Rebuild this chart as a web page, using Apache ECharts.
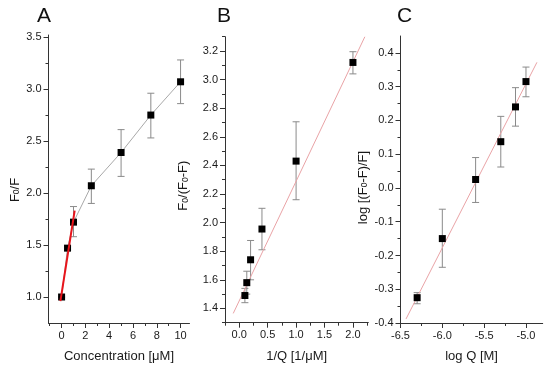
<!DOCTYPE html>
<html><head><meta charset="utf-8">
<script src="https://cdn.jsdelivr.net/npm/echarts@6/dist/echarts.min.js"></script>
<style>html,body{margin:0;padding:0;background:#fff}#c{width:550px;height:371px}</style>
</head><body><div id="c"></div>
<script>
// Panel A: Stern-Volmer
const aX  = [0, 0.5, 1, 2.5, 5, 7.5, 10];
const aY  = [1.00, 1.47, 1.72, 2.07, 2.39, 2.75, 3.07];
const aLo = [1.00, 1.45, 1.58, 1.90, 2.16, 2.53, 2.86];
const aHi = [1.00, 1.49, 1.87, 2.23, 2.61, 2.96, 3.28];
const aFitX = [-0.1, 1.1];
const aFitY = [0.96, 1.83];
// Panel B: modified Stern-Volmer
const bX  = [0.1, 0.1333, 0.2, 0.4, 1.0, 2.0];
const bY  = [1.49, 1.58, 1.74, 1.955, 2.43, 3.12];
const bLo = [1.44, 1.50, 1.60, 1.81, 2.16, 3.04];
const bHi = [1.54, 1.66, 1.875, 2.10, 2.705, 3.195];
const bFitX = [-0.105, 2.21];
const bFitY = [1.365, 3.30];
// Panel C: double log
const cX  = [-6.301, -6.0, -5.602, -5.301, -5.125, -5.0];
const cY  = [-0.325, -0.15, 0.025, 0.137, 0.24, 0.315];
const cLo = [-0.343, -0.235, -0.043, 0.062, 0.183, 0.27];
const cHi = [-0.31, -0.063, 0.09, 0.212, 0.297, 0.358];
const cFitX = [-6.434, -4.869];
const cFitY = [-0.388, 0.372];
// tick labels
const aXTicks = [0, 2, 4, 6, 8, 10];
const aXMinor = [-1, 1, 3, 5, 7, 9];
const aYTicks = [1.0, 1.5, 2.0, 2.5, 3.0, 3.5];
const aYMinor = [1.25, 1.75, 2.25, 2.75, 3.25];
const bXTicks = [0.0, 0.5, 1.0, 1.5, 2.0];
const bXMinor = [-0.25, 0.25, 0.75, 1.25, 1.75, 2.25];
const bYTicks = [1.4, 1.6, 1.8, 2.0, 2.2, 2.4, 2.6, 2.8, 3.0, 3.2];
const bYMinor = [1.3, 1.5, 1.7, 1.9, 2.1, 2.3, 2.5, 2.7, 2.9, 3.1, 3.3];
const cXTicks = [-6.5, -6.0, -5.5, -5.0];
const cXMinor = [-6.25, -5.75, -5.25];
const cYTicks = [-0.4, -0.3, -0.2, -0.1, 0.0, 0.1, 0.2, 0.3, 0.4];
const cYMinor = [-0.35, -0.25, -0.15, -0.05, 0.05, 0.15, 0.25, 0.35];

const FONT = '"Liberation Sans", Arial, sans-serif';
const AX = '#333';
const TXT = '#1a1a1a';
const zip = (...arrs) => arrs[0].map((_, i) => arrs.map(a => a[i]));

const grids = [
  {left: 48.5, top: 35, width: 141, height: 288},
  {left: 225, top: 36.7, width: 143.3, height: 286},
  {left: 400.5, top: 36, width: 142.2, height: 287}
];
const xr = [[-1.1, 10.75], [-0.25, 2.27], [-6.5, -4.8]];
const yr = [[0.75, 3.52], [1.3, 3.3], [-0.4, 0.45]];
const xt = [[aXTicks, aXMinor], [bXTicks, bXMinor], [cXTicks, cXMinor]];
const yt = [[aYTicks, aYMinor], [bYTicks, bYMinor], [cYTicks, cYMinor]];
const yDec = [1, 1, 1];
const xDec = [0, 1, 1];
const xNames = ['Concentration [\u03bcM]', '1/Q [1/\u03bcM]', 'log Q [M]'];
const yNames = ['{t|F}{s|0}{t|/F}', '{t|F}{s|0}{t|/(F}{s|0}{t|-F)}', '{t|log [(F}{s|0}{t|-F)/F]}'];
const yGaps = [27, 35, 31];
const yShift = [22, 12, 16];
const rich = {
  t: {fontSize: 13, fontFamily: FONT, color: TXT, lineHeight: 16, verticalAlign: 'bottom'},
  s: {fontSize: 8.5, fontFamily: FONT, color: TXT, lineHeight: 2, verticalAlign: 'bottom'}
};

const xAxis = [], yAxis = [];
for (let g = 0; g < 3; g++) {
  xAxis.push({
    type: 'value', gridIndex: g, min: xr[g][0], max: xr[g][1],
    name: xNames[g], nameLocation: 'middle', nameGap: 27,
    nameTextStyle: {fontSize: 13, fontFamily: FONT, color: TXT},
    axisLine: {show: true, onZero: false, lineStyle: {color: AX, width: 1}},
    axisTick: {show: true, length: 5, inside: false, customValues: xt[g][0], lineStyle: {color: AX}},
    axisLabel: {show: true, margin: 7, fontSize: 11, fontFamily: FONT, color: TXT, customValues: xt[g][0],
      formatter: v => v.toFixed(xDec[g])},
    splitLine: {show: false}
  });
  xAxis.push({
    type: 'value', gridIndex: g, min: xr[g][0], max: xr[g][1], position: 'bottom',
    axisLine: {show: false, onZero: false},
    axisTick: {show: true, length: 3, inside: false, customValues: xt[g][1], lineStyle: {color: AX}},
    axisLabel: {show: false}, splitLine: {show: false}
  });
  yAxis.push({
    type: 'value', gridIndex: g, min: yr[g][0], max: yr[g][1],
    name: yNames[g], nameLocation: 'middle', nameGap: yGaps[g], nameRotate: 90,
    nameTextStyle: {rich: rich, padding: [0, yShift[g], 0, 0]},
    axisLine: {show: true, onZero: false, lineStyle: {color: AX, width: 1}},
    axisTick: {show: true, length: 5, inside: false, customValues: yt[g][0], lineStyle: {color: AX}},
    axisLabel: {show: true, margin: 7, fontSize: 11, fontFamily: FONT, color: TXT, customValues: yt[g][0],
      formatter: v => v.toFixed(yDec[g])},
    splitLine: {show: false}
  });
  yAxis.push({
    type: 'value', gridIndex: g, min: yr[g][0], max: yr[g][1], position: 'left',
    axisLine: {show: false, onZero: false},
    axisTick: {show: true, length: 3, inside: false, customValues: yt[g][1], lineStyle: {color: AX}},
    axisLabel: {show: false}, splitLine: {show: false}
  });
}

function errBars(g, xs, lo, hi) {
  return {
    type: 'custom', xAxisIndex: 2 * g, yAxisIndex: 2 * g, z: 2, silent: true,
    data: zip(xs, lo, hi),
    renderItem: (params, api) => {
      const x = api.value(0);
      const p1 = api.coord([x, api.value(1)]);
      const p2 = api.coord([x, api.value(2)]);
      const w = 3.5, st = {stroke: '#8a8a8a', lineWidth: 1};
      return {type: 'group', children: [
        {type: 'line', shape: {x1: p1[0], y1: p1[1], x2: p2[0], y2: p2[1]}, style: st},
        {type: 'line', shape: {x1: p1[0] - w, y1: p1[1], x2: p1[0] + w, y2: p1[1]}, style: st},
        {type: 'line', shape: {x1: p2[0] - w, y1: p2[1], x2: p2[0] + w, y2: p2[1]}, style: st}
      ]};
    }
  };
}
function marks(g, xs, ys, withLine) {
  return {
    type: 'line', xAxisIndex: 2 * g, yAxisIndex: 2 * g, z: 4, silent: true,
    data: zip(xs, ys), symbol: 'rect', symbolSize: 7, showSymbol: true,
    itemStyle: {color: '#000'},
    lineStyle: withLine ? {color: '#a8a8a8', width: 1} : {width: 0, opacity: 0}
  };
}
function fit(g, xs, ys, color, width, z) {
  return {
    type: 'line', xAxisIndex: 2 * g, yAxisIndex: 2 * g, z: z, silent: true,
    data: zip(xs, ys), symbol: 'none', lineStyle: {color: color, width: width}
  };
}

const chart = echarts.init(document.getElementById('c'), null, {renderer: 'canvas'});
chart.setOption({
  animation: false,
  grid: grids,
  xAxis: xAxis,
  yAxis: yAxis,
  graphic: [
    {type: 'text', left: 37, top: 6, style: {text: 'A', fontSize: 21, fontFamily: FONT, fill: '#111'}},
    {type: 'text', left: 217, top: 6, style: {text: 'B', fontSize: 21, fontFamily: FONT, fill: '#111'}},
    {type: 'text', left: 397, top: 6, style: {text: 'C', fontSize: 21, fontFamily: FONT, fill: '#111'}}
  ],
  series: [
    errBars(0, aX, aLo, aHi), marks(0, aX, aY, true), fit(0, aFitX, aFitY, '#e8141b', 2, 5),
    errBars(1, bX, bLo, bHi), marks(1, bX, bY, false), fit(1, bFitX, bFitY, '#e9a3a6', 1, 3),
    errBars(2, cX, cLo, cHi), marks(2, cX, cY, false), fit(2, cFitX, cFitY, '#e9a3a6', 1, 3)
  ]
});
</script></body></html>
